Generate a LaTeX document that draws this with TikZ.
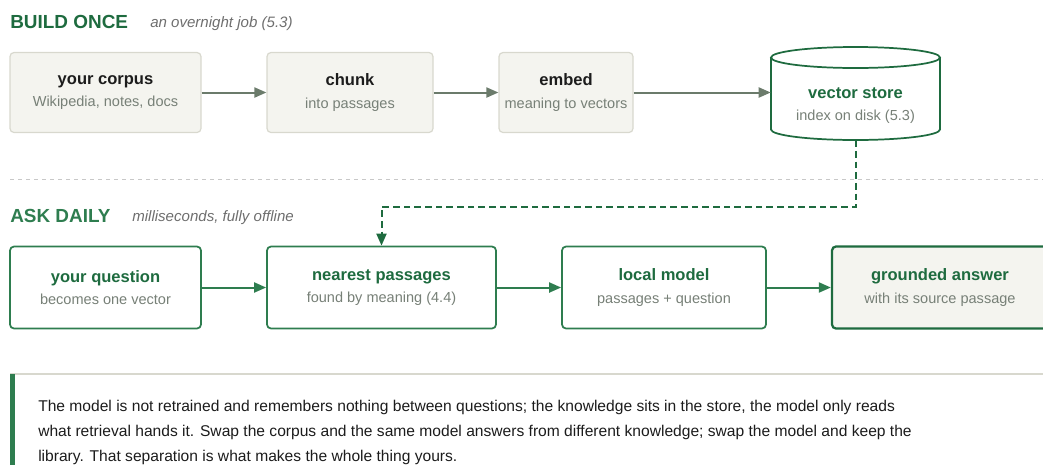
\documentclass[tikz,border=0pt]{standalone}
\usepackage{fontspec}
\setmainfont{Liberation Sans}
\usetikzlibrary{arrows.meta}

\definecolor{headgreen}{HTML}{1E6B3F}
\definecolor{askgreen}{HTML}{2E7D4F}
\definecolor{flowgray}{HTML}{6B7B6B}
\definecolor{boxfill}{HTML}{F4F4EF}
\definecolor{boxline}{HTML}{D8D8CE}
\definecolor{subgray}{HTML}{778077}
\definecolor{notegray}{HTML}{6E6E6E}
\definecolor{rulegray}{HTML}{C8C8C8}
\definecolor{inkblack}{HTML}{1C1C1C}

\begin{document}
\begin{tikzpicture}[x=0.75pt, y=-0.75pt,
    >={Triangle[length=9pt, width=7.5pt]},
    buildbox/.style={draw=boxline, fill=boxfill, line width=0.9pt, rounded corners=3pt,
      align=center, inner sep=0pt, minimum height=60pt, text=subgray,
      font=\fontsize{10.9}{17}\selectfont},
    askbox/.style={buildbox, draw=askgreen, fill=white, line width=1.3pt, minimum height=61.5pt},
    title/.style={font=\fontsize{14.2}{16}\selectfont\bfseries, text=headgreen, anchor=base west, inner sep=0pt},
    aside/.style={font=\fontsize{11.3}{12}\selectfont\itshape, text=notegray, anchor=base west, inner sep=0pt},
    flow/.style={->, line width=1.5pt, draw=flowgray},
    askflow/.style={->, line width=1.5pt, draw=askgreen}]
  \useasboundingbox (0,0) rectangle (1043,465);

  % build once row
  \node[title] (buildhead) at (10,28) {BUILD ONCE};
  \node[aside] (buildnote) at (150,27) {an overnight job (5.3)};

  \node[buildbox, minimum width=143.25pt] (corpus) at (105.5,92.5)
    {{\color{inkblack}\fontsize{12.4}{17}\selectfont\bfseries your corpus}\\Wikipedia, notes, docs};
  \node[buildbox, minimum width=124.5pt] (chunk) at (350,92.5)
    {{\color{inkblack}\fontsize{12.4}{17}\selectfont\bfseries chunk}\\into passages};
  \node[buildbox, minimum width=100.5pt] (embed) at (566,92.5)
    {{\color{inkblack}\fontsize{12.4}{17}\selectfont\bfseries embed}\\meaning to vectors};

  % vector store cylinder, drawn by hand round its node
  \draw[draw=headgreen, fill=white, line width=1.3pt]
    (771,57.5) -- (771,129.5) arc[start angle=180, end angle=0, x radius=84.5, y radius=10.5]
    -- (940,57.5);
  \draw[draw=headgreen, line width=1.3pt] (855.5,57.5) ellipse[x radius=84.5, y radius=10.5];
  \node[align=center, inner sep=0pt, minimum width=126.75pt, minimum height=51.75pt,
        text=subgray, font=\fontsize{10.9}{17}\selectfont] (store) at (855.5,105.5)
    {{\color{headgreen}\fontsize{12.4}{17}\selectfont\bfseries vector store}\\index on disk (5.3)};

  \draw[flow] (corpus) -- (chunk);
  \draw[flow] (chunk) -- (embed);
  \draw[flow] (embed.east) -- (embed.east -| store.west);

  % separator
  \draw[rulegray, line width=0.6pt, dash pattern=on 3pt off 3pt] (10,179) -- (1043,179);

  % ask daily row
  \node[title, text=askgreen] (askhead) at (10,222) {ASK DAILY};
  \node[aside] (asknote) at (132,221) {milliseconds, fully offline};

  \node[askbox, minimum width=143.25pt] (question) at (105.5,287.5)
    {{\color{headgreen}\fontsize{12.4}{17}\selectfont\bfseries your question}\\becomes one vector};
  \node[askbox, minimum width=171.75pt] (nearest) at (381.5,287.5)
    {{\color{headgreen}\fontsize{12.4}{17}\selectfont\bfseries nearest passages}\\found by meaning (4.4)};
  \node[askbox, minimum width=153pt] (local) at (664,287.5)
    {{\color{headgreen}\fontsize{12.4}{17}\selectfont\bfseries local model}\\passages + question};
  \node[askbox, draw=headgreen, fill=boxfill, line width=1.7pt, minimum width=162pt] (answer) at (940,287.5)
    {{\color{headgreen}\fontsize{12.4}{17}\selectfont\bfseries grounded answer}\\with its source passage};

  \draw[askflow] (question) -- (nearest);
  \draw[askflow] (nearest) -- (local);
  \draw[askflow] (local) -- (answer);

  % lookup into the store
  \coordinate (turn) at (381.5,207);
  \draw[askflow, draw=headgreen, dash pattern=on 5pt off 3pt] (store.south) |- (turn) -- (nearest.north);

  % closing note
  \draw[boxline, line width=1pt] (10,374) -- (1043,374);
  \fill[askgreen] (10,374) rectangle (15,465);
  \node[anchor=north west, align=left, inner sep=0pt, text=inkblack,
        font=\fontsize{11.7}{18.75}\selectfont] (note) at (38,399.5)
    {The model is not retrained and remembers nothing between questions; the knowledge sits in the store, the model only reads\\
     what retrieval hands it. Swap the corpus and the same model answers from different knowledge; swap the model and keep the\\
     library. That separation is what makes the whole thing yours.};
\end{tikzpicture}
\end{document}
